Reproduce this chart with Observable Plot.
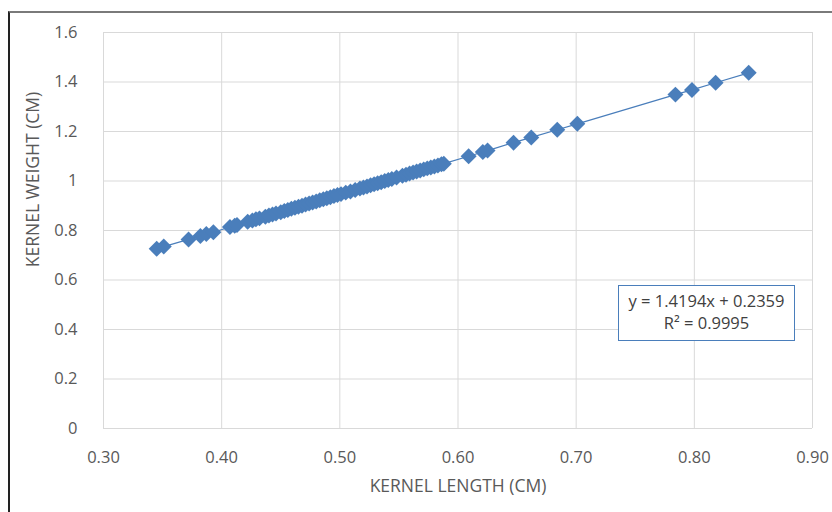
<!DOCTYPE html>
<html>
<head>
<meta charset="utf-8">
<script src="https://cdn.jsdelivr.net/npm/d3@7"></script>
<script src="https://cdn.jsdelivr.net/npm/@observablehq/plot@0.6"></script>
<style>
  html, body { margin: 0; padding: 0; background: #fff; }
  #wrap { position: relative; width: 832px; height: 512px; overflow: hidden; font-family: "Open Sans", sans-serif; }
  #frame { position: absolute; left: 8px; top: 11px; width: 900px; height: 600px;
           border-top: 2px solid #7a7a7a; border-left: 2px solid #222; pointer-events: none; }
  #eq { position: absolute; left: 618px; top: 285px; width: 177px; height: 56px;
        border: 1.5px solid #4a7ebb; background: #fff; color: #404040;
        font-size: 16.5px; line-height: 22px; text-align: center; padding-top: 4px; box-sizing: border-box; white-space: nowrap; }
</style>
</head>
<body>
<div id="wrap">
  <div id="chart"></div>
  <div id="frame"></div>
  <div id="eq"></div>
</div>
<script>
// Data (kernel length vs kernel weight)
const kernelLength = [
  0.345, 0.351, 0.372, 0.382, 0.387, 0.393, 0.407, 0.411, 0.413, 0.422,
  0.426, 0.429, 0.432, 0.437, 0.440, 0.443, 0.446, 0.450, 0.453, 0.456,
  0.459, 0.462, 0.465, 0.468, 0.471, 0.474, 0.477, 0.480, 0.483, 0.486,
  0.489, 0.492, 0.495, 0.498, 0.501, 0.505, 0.509, 0.513, 0.517, 0.520,
  0.523, 0.526, 0.529, 0.532, 0.535, 0.538, 0.541, 0.544, 0.548, 0.553,
  0.556, 0.559, 0.562, 0.565, 0.568, 0.571, 0.574, 0.577, 0.580, 0.583,
  0.586, 0.588, 0.609, 0.621, 0.625, 0.647, 0.662, 0.684, 0.701, 0.784,
  0.798, 0.818, 0.846
];
const kernelWeight = [
  0.726, 0.735, 0.764, 0.778, 0.786, 0.793, 0.814, 0.819, 0.822, 0.835,
  0.840, 0.845, 0.849, 0.856, 0.861, 0.865, 0.869, 0.874, 0.879, 0.883,
  0.888, 0.892, 0.896, 0.900, 0.905, 0.909, 0.913, 0.917, 0.922, 0.926,
  0.930, 0.934, 0.939, 0.943, 0.947, 0.953, 0.958, 0.964, 0.970, 0.974,
  0.978, 0.983, 0.987, 0.991, 0.995, 1.000, 1.004, 1.008, 1.014, 1.021,
  1.025, 1.030, 1.034, 1.038, 1.042, 1.047, 1.051, 1.055, 1.059, 1.063,
  1.068, 1.070, 1.100, 1.117, 1.123, 1.155, 1.176, 1.207, 1.231, 1.349,
  1.368, 1.397, 1.437
];
const xTicks = [0.3, 0.4, 0.5, 0.6, 0.7, 0.8, 0.9];
const xTickLabels = ["0.30", "0.40", "0.50", "0.60", "0.70", "0.80", "0.90"];
const yTicks = [0, 0.2, 0.4, 0.6, 0.8, 1.0, 1.2, 1.4, 1.6];
const yTickLabels = ["0", "0.2", "0.4", "0.6", "0.8", "1", "1.2", "1.4", "1.6"];
const xTitle = "KERNEL LENGTH (CM)";
const yTitle = "KERNEL WEIGHT (CM)";
const equationLines = ["y = 1.4194x + 0.2359", "R² = 0.9995"];

const data = kernelLength.map((x, i) => ({x, y: kernelWeight[i]}));
const blue = "#4a7ebb";
const tickColor = "#595959";
const font = "'Open Sans', sans-serif";

const chart = Plot.plot({
  width: 832,
  height: 512,
  marginLeft: 103,
  marginRight: 20,
  marginTop: 32,
  marginBottom: 84,
  style: {fontFamily: font, background: "transparent"},
  x: {domain: [0.3, 0.9]},
  y: {domain: [0, 1.6]},
  marks: [
    Plot.gridX(xTicks, {stroke: "#d9d9d9", strokeOpacity: 1, strokeWidth: 1}),
    Plot.gridY(yTicks, {stroke: "#d9d9d9", strokeOpacity: 1, strokeWidth: 1}),
    Plot.axisX(xTicks, {
      tickSize: 0, tickPadding: 23, fontSize: 16.5, fill: tickColor, label: null,
      tickFormat: d => xTickLabels[xTicks.indexOf(d)]
    }),
    Plot.axisY(yTicks, {
      tickSize: 0, tickPadding: 26, fontSize: 16.5, fill: tickColor, label: null,
      tickFormat: d => yTickLabels[yTicks.indexOf(d)]
    }),
    Plot.text([xTitle], {frameAnchor: "bottom", dy: 63, text: d => d, fontSize: 17.5, fill: tickColor, textAnchor: "middle"}),
    Plot.text([yTitle], {frameAnchor: "left", dx: -70, dy: -51, rotate: -90, text: d => d, fontSize: 17.5, fill: tickColor, textAnchor: "middle"}),
    Plot.line(data, {x: "x", y: "y", stroke: blue, strokeWidth: 1.2}),
    Plot.dot(data, {x: "x", y: "y", symbol: "diamond2", r: 7.2, fill: blue, stroke: "none"})
  ]
});
document.getElementById("chart").appendChild(chart);
document.getElementById("eq").innerHTML = equationLines.join("<br>");
</script>
</body>
</html>
